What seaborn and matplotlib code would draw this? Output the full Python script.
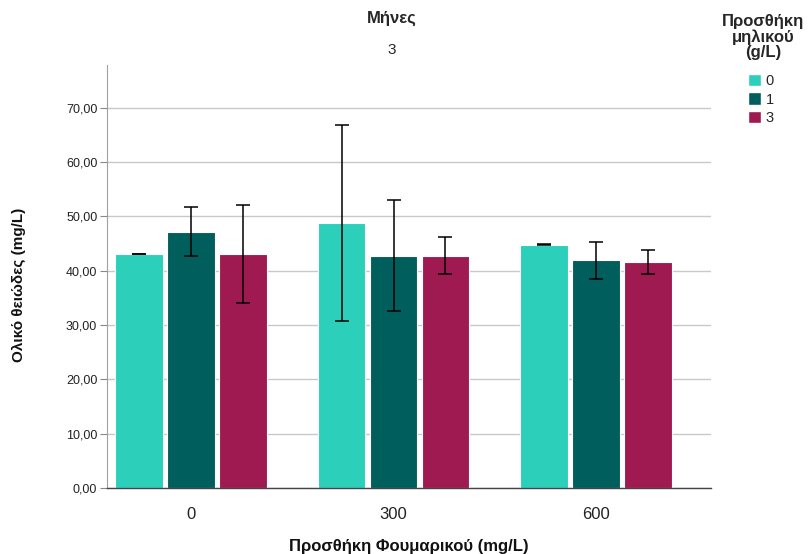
import matplotlib
matplotlib.use("Agg")
import matplotlib.pyplot as plt
import seaborn as sns
import pandas as pd
import numpy as np
from matplotlib.patches import Patch

fumaric = ["0", "300", "600"]
malic = ["0", "1", "3"]
# means per fumaric group, per malic level
means_m0 = [43.1, 48.8, 44.8]
means_m1 = [47.2, 42.8, 41.9]
means_m3 = [43.1, 42.8, 41.6]
err_m0 = [0.05, 18.1, 0.05]
err_m1 = [4.5, 10.2, 3.4]
err_m3 = [9.1, 3.4, 2.25]
y_ticks = [0, 10, 20, 30, 40, 50, 60, 70]

colors = ["#2bcfba", "#005e5c", "#a01a52"]

rows = []
for lvl, ms, es in zip(malic, [means_m0, means_m1, means_m3], [err_m0, err_m1, err_m3]):
    for f, m, e in zip(fumaric, ms, es):
        rows.append({"fum": f, "mal": lvl, "mean": m, "err": e})
df = pd.DataFrame(rows)

sns.set_theme(style="white")
plt.rcParams["font.family"] = ["Liberation Sans", "DejaVu Sans"]

fig = plt.figure(figsize=(8.12, 5.54), dpi=100)
ax = fig.add_axes([107/812, 66/554, 604/812, 423/554])

sns.barplot(data=df, x="fum", y="mean", hue="mal", order=fumaric, hue_order=malic,
            palette=colors, saturation=1, errorbar=None, width=0.77, gap=0.08, ax=ax,
            legend=False, linewidth=0.8, edgecolor="white")

# error bars at bar centers
for lvl_idx, lvl in enumerate(malic):
    cont = ax.containers[lvl_idx]
    sub = df[df["mal"] == lvl].set_index("fum").loc[fumaric]
    for bar, (_, r) in zip(cont.patches, sub.iterrows()):
        xc = bar.get_x() + bar.get_width() / 2
        ax.errorbar(xc, r["mean"], yerr=r["err"], fmt="none", ecolor="black",
                    elinewidth=1.1, capsize=5, capthick=1.1, zorder=5)

ax.set_xlim(-0.415, 2.568)
ax.set_ylim(0, 77.9)
ax.set_yticks(y_ticks)
ax.set_yticklabels([f"{v:.2f}".replace(".", ",") for v in y_ticks], fontsize=9, color="#222222")
ax.yaxis.grid(True, color="#c8c8c8", linewidth=1.0)
ax.set_axisbelow(True)
ax.tick_params(axis="y", left=True, length=5, width=0.8, color="#888888", pad=2)
ax.tick_params(axis="x", bottom=False, labelsize=12, pad=8, labelcolor="#222222")
for s in ["top", "right"]:
    ax.spines[s].set_visible(False)
ax.spines["left"].set_color("#a0a0a0")
ax.spines["bottom"].set_color("#444444")
ax.spines["left"].set_linewidth(0.8)
ax.spines["bottom"].set_linewidth(1.0)

ax.set_xlabel("Προσθήκη Φουμαρικού (mg/L)", fontsize=12, fontweight="bold", labelpad=12, color="#111111")
ax.set_ylabel("Ολικό θειώδες (mg/L)", fontsize=11, fontweight="bold", labelpad=0, color="#111111")
ax.yaxis.set_label_coords(-(107 - 26) / 604, 0.48)

fig.text(392/812, 1 - 18/554, "Μήνες", ha="center", va="center", fontsize=12, fontweight="bold")
fig.text(392/812, 1 - 50/554, "3", ha="center", va="center", fontsize=11)

fig.text(763/812, 1 - 37/554, "Προσθήκη\nμηλικού\n(g/L)", ha="center", va="center",
         fontsize=12, fontweight="bold", linespacing=1.0, multialignment="center")

handles = [Patch(facecolor=c, edgecolor="white") for c in colors]
leg = fig.legend(handles, malic,
                 loc="upper left", bbox_to_anchor=(748/812, 1 - 74/554),
                 frameon=False, fontsize=10.5, handlelength=0.9, handleheight=0.9,
                 handletextpad=0.3, labelspacing=0.3, borderaxespad=0, borderpad=0)

fig.savefig("out.png", dpi=100)
